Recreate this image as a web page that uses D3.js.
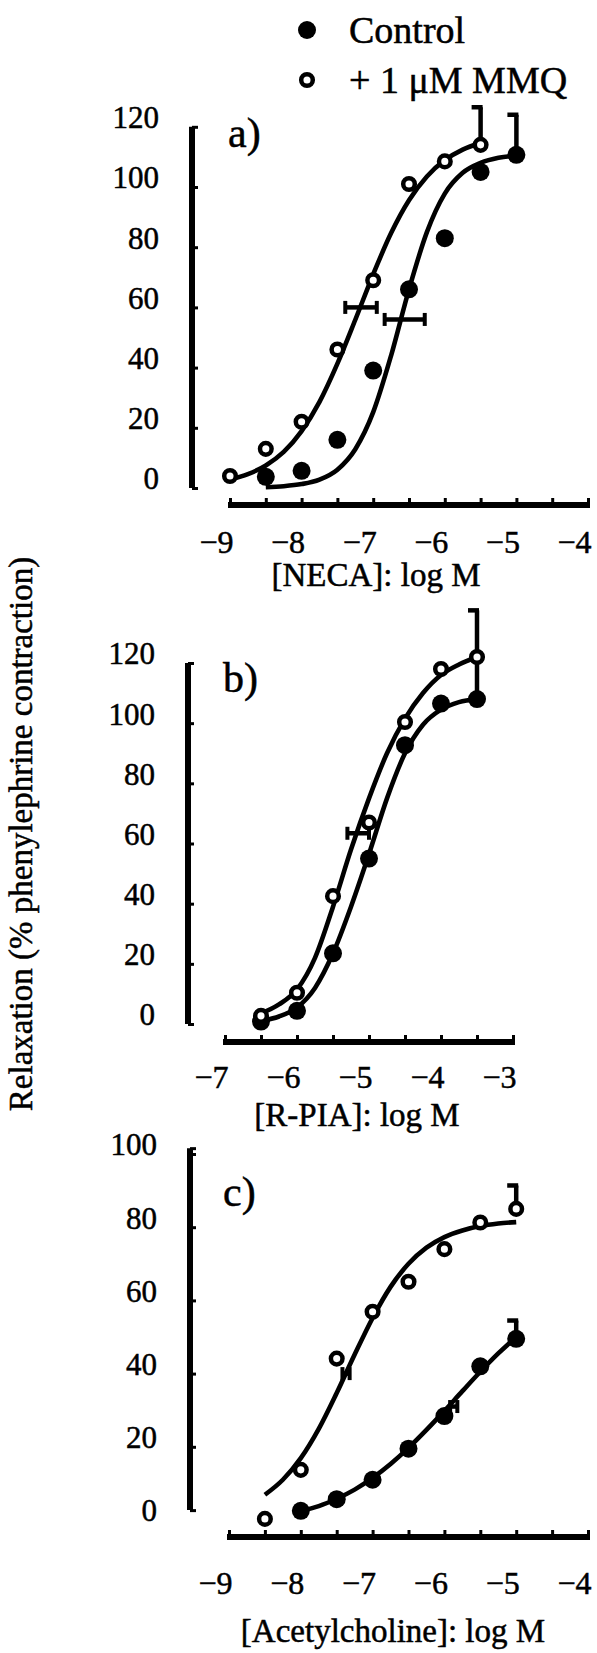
<!DOCTYPE html>
<html>
<head>
<meta charset="utf-8">
<script src="https://cdn.jsdelivr.net/npm/d3@7"></script>
<style>
  body { margin: 0; background: #fff; }
  svg text { font-family: 'Liberation Serif', 'Times New Roman', Times, serif; fill: #000; stroke: #000; stroke-width: 0.5px; }
</style>
</head>
<body>
<svg id="chart" width="597" height="1653"></svg>
<script>
// ---- data ----
// a) NECA
const necaCtrlX = [-8.5, -8, -7.5, -7, -6.5, -6, -5.5, -5];
const necaCtrlY = [3.7, 5.7, 16, 39, 66, 83, 105, 110.7];
const necaMmqX = [-9, -8.5, -8, -7.5, -7, -6.5, -6, -5.5];
const necaMmqY = [4, 13, 22, 46, 69, 101, 108.5, 114];
const necaCtrlFitX = [-8.5, -8.25, -8, -7.75, -7.5, -7.25, -7, -6.75, -6.5, -6.25, -6, -5.75, -5.5, -5.25, -5];
const necaCtrlFitY = [0.3, 0.6, 1.3, 2.8, 6.1, 12.9, 25.2, 44, 66, 85, 97.8, 104.7, 108, 109.7, 110.4];
const necaMmqFitX = [-9, -8.75, -8.5, -8.25, -8, -7.75, -7.5, -7.25, -7, -6.75, -6.5, -6.25, -6, -5.75, -5.5];
const necaMmqFitY = [2.8, 4.6, 7.5, 12, 18.9, 28.6, 41.3, 55.9, 71, 84.7, 95.6, 103.5, 108.9, 112.4, 114.6];
// vertical error bars: [logX, low, high]
const necaErrV = [[-5.5, 114, 126.5], [-5, 110.7, 124]];
// EC50 error bars: [value, logLow, logHigh]
const necaErrH = [[60, -7.39, -6.95], [56, -6.84, -6.28]];

// b) R-PIA
const rpiaCtrlX = [-6.5, -6, -5.5, -5, -4.5, -4, -3.5];
const rpiaCtrlY = [0.8, 4.4, 23.5, 55, 92.7, 106.5, 108];
const rpiaMmqX = [-6.5, -6, -5.5, -5, -4.5, -4, -3.5];
const rpiaMmqY = [2.7, 10.4, 42.5, 67, 100.4, 118, 122];
const rpiaFitX = [-6.5, -6.25, -6, -5.75, -5.5, -5.25, -5, -4.75, -4.5, -4.25, -4, -3.75, -3.5];
const rpiaCtrlFitY = [1, 2.5, 5.5, 12, 23.5, 39, 56.5, 75, 90, 99.5, 104.5, 107, 108];
const rpiaMmqFitY = [3.5, 6.5, 11.5, 22, 39, 58, 75, 90, 101.5, 110, 116, 119.5, 122];
const rpiaErrV = [[-3.5, 107, 137.5]];
const rpiaErrH = [[63.4, -5.3, -5.0]];

// c) Acetylcholine
const achCtrlX = [-8, -7.5, -7, -6.5, -6, -5.5, -5];
const achCtrlY = [2.5, 5.7, 11, 19.5, 28.4, 42, 49.5];
const achMmqX = [-8.5, -8, -7.5, -7, -6.5, -6, -5.5, -5];
const achMmqY = [0.3, 13.7, 44.1, 56.9, 65.1, 74, 81.3, 85];
const achCtrlFitX = [-8, -7.75, -7.5, -7.25, -7, -6.75, -6.5, -6.25, -6, -5.75, -5.5, -5.25, -5];
const achCtrlFitY = [2.5, 3.8, 5.8, 8.3, 11.5, 15.3, 19.7, 24.6, 29.8, 35.2, 40.5, 45.5, 50];
const achMmqFitX = [-8.5, -8.25, -8, -7.75, -7.5, -7.25, -7, -6.75, -6.5, -6.25, -6, -5.75, -5.5, -5.25, -5];
const achMmqFitY = [6.9, 11, 16.9, 24.9, 34.7, 45.2, 55.2, 63.7, 70, 74.4, 77.3, 79.1, 80.3, 81, 81.4];
const achErrV = [[-5, 85, 91.4], [-5, 49.5, 54.5]];
const achErrH = [[40, -7.42, -7.32], [31, -5.92, -5.82]];

// axis ticks
const yTicks120 = [0, 20, 40, 60, 80, 100, 120];
const yTicks100 = [0, 20, 40, 60, 80, 100];
const xTicksNine = [-9, -8, -7, -6, -5, -4];
const xTicksSeven = [-7, -6, -5, -4, -3];

const legendLabels = ["Control", "+ 1 \u03bcM MMQ"];
const yTitle = "Relaxation (% phenylephrine contraction)";

// ---- layout ----
const FONT = "'Liberation Serif', 'Times New Roman', Times, serif";
const DOT_R = 9, RING_R = 5.8, RING_W = 4.5;

const panels = [
  {
    tag: "a)", title: "[NECA]: log M",
    xDomain: [-9, -4], xRange: [230, 588],
    yDomain: [0, 120], yRange: [488, 126.8], yExtent: [0, 120],
    yTicks: yTicks120, xTicks: xTicksNine,
    axisX: 192, axisY: 505, labelRight: 159, xLabelBase: 48, titleX: 376, titleY: 586,
    tagX: 228, tagY: 147,
    ctrl: [necaCtrlX, necaCtrlY], mmq: [necaMmqX, necaMmqY],
    ctrlFit: [necaCtrlFitX, necaCtrlFitY], mmqFit: [necaMmqFitX, necaMmqFitY],
    errV: necaErrV, errH: necaErrH
  },
  {
    tag: "b)", title: "[R-PIA]: log M",
    xDomain: [-7, -3], xRange: [225, 513],
    yDomain: [0, 120], yRange: [1024, 663], yExtent: [0, 120],
    yTicks: yTicks120, xTicks: xTicksSeven,
    axisX: 188, axisY: 1042, labelRight: 155, xLabelBase: 46, titleX: 357, titleY: 1126,
    tagX: 223, tagY: 692,
    ctrl: [rpiaCtrlX, rpiaCtrlY], mmq: [rpiaMmqX, rpiaMmqY],
    ctrlFit: [rpiaFitX, rpiaCtrlFitY], mmqFit: [rpiaFitX, rpiaMmqFitY],
    errV: rpiaErrV, errH: rpiaErrH
  },
  {
    tag: "c)", title: "[Acetylcholine]: log M",
    xDomain: [-9, -4], xRange: [229, 588],
    yDomain: [0, 100], yRange: [1520, 1154], yExtent: [2.7, 101.6],
    yTicks: yTicks100, xTicks: xTicksNine,
    axisX: 190, axisY: 1537, labelRight: 157, xLabelBase: 57, titleX: 393, titleY: 1642,
    tagX: 223, tagY: 1206,
    ctrl: [achCtrlX, achCtrlY], mmq: [achMmqX, achMmqY],
    ctrlFit: [achCtrlFitX, achCtrlFitY], mmqFit: [achMmqFitX, achMmqFitY],
    errV: achErrV, errH: achErrH
  }
];

const svg = d3.select("#chart").attr("font-family", FONT);
svg.append("rect").attr("width", 597).attr("height", 1653).attr("fill", "#fff");

const zip = (xs, ys) => xs.map((v, i) => [v, ys[i]]);

panels.forEach(function(p) {
  const x = d3.scaleLinear().domain(p.xDomain).range(p.xRange);
  const y = d3.scaleLinear().domain(p.yDomain).range(p.yRange);
  const g = svg.append("g");

  // y axis: thick spine, small ticks to the right
  g.append("line")
    .attr("x1", p.axisX).attr("x2", p.axisX)
    .attr("y1", y(p.yExtent[0])).attr("y2", y(p.yExtent[1]))
    .attr("stroke", "#000").attr("stroke-width", 6);
  const yMarks = p.yTicks.filter(d => d > p.yExtent[0] && d < p.yExtent[1]).concat(p.yExtent);
  g.append("g")
    .attr("transform", `translate(${p.axisX},0)`)
    .call(d3.axisRight(y).tickValues(yMarks).tickSize(6).tickFormat(""))
    .call(s => s.select(".domain").remove())
    .selectAll("line").attr("stroke-width", 3);

  // y labels sit a little above their ticks
  g.append("g")
    .attr("transform", `translate(${p.labelRight},0)`)
    .call(d3.axisLeft(y).tickValues(p.yTicks).tickSize(0).tickPadding(0).tickFormat(d3.format("d")))
    .call(s => s.select(".domain").remove())
    .attr("font-family", FONT).attr("font-size", 31)
    .selectAll("text")
    .attr("y", -9);

  // x axis: thick line with upward ticks every half log unit
  const halfSteps = d3.range(p.xDomain[0], p.xDomain[1] + 0.01, 0.5);
  g.append("line")
    .attr("x1", x(p.xDomain[0]) - 2).attr("x2", x(p.xDomain[1]) + 2)
    .attr("y1", p.axisY).attr("y2", p.axisY)
    .attr("stroke", "#000").attr("stroke-width", 6);
  g.append("g")
    .attr("transform", `translate(0,${p.axisY})`)
    .call(d3.axisTop(x).tickValues(halfSteps).tickSize(7).tickFormat(""))
    .call(s => s.select(".domain").remove())
    .selectAll("line").attr("stroke-width", 3);

  g.append("g")
    .attr("transform", `translate(0,${p.axisY})`)
    .call(d3.axisBottom(x).tickValues(p.xTicks).tickSize(0).tickFormat(d3.format("d")))
    .call(s => s.select(".domain").remove())
    .attr("font-family", FONT).attr("font-size", 32)
    .selectAll("text")
    .attr("y", p.xLabelBase).attr("dy", 0).attr("x", 3)
    .attr("text-anchor", "end");

  g.append("text")
    .attr("x", p.titleX).attr("y", p.titleY)
    .attr("text-anchor", "middle")
    .attr("font-size", 33)
    .text(p.title);

  g.append("text")
    .attr("x", p.tagX).attr("y", p.tagY)
    .attr("font-size", 42)
    .text(p.tag);

  // fitted curves
  const line = d3.line()
    .curve(d3.curveMonotoneX)
    .x(d => x(d[0]))
    .y(d => y(d[1]));
  [p.ctrlFit, p.mmqFit].forEach(function(f) {
    g.append("path")
      .attr("d", line(zip(f[0], f[1])))
      .attr("fill", "none")
      .attr("stroke", "#000")
      .attr("stroke-width", 4.6);
  });

  // vertical SEM bars with a cap on the left
  p.errV.forEach(function(e) {
    g.append("line")
      .attr("x1", x(e[0])).attr("x2", x(e[0]))
      .attr("y1", y(e[1])).attr("y2", y(e[2]))
      .attr("stroke", "#000").attr("stroke-width", 4.5);
    g.append("line")
      .attr("x1", x(e[0]) - 9).attr("x2", x(e[0]) + 2)
      .attr("y1", y(e[2])).attr("y2", y(e[2]))
      .attr("stroke", "#000").attr("stroke-width", 4.5);
  });

  // EC50 error bars
  p.errH.forEach(function(e) {
    g.append("line")
      .attr("x1", x(e[1])).attr("x2", x(e[2]))
      .attr("y1", y(e[0])).attr("y2", y(e[0]))
      .attr("stroke", "#000").attr("stroke-width", 4.5);
    [e[1], e[2]].forEach(function(v) {
      g.append("line")
        .attr("x1", x(v)).attr("x2", x(v))
        .attr("y1", y(e[0]) - 6.5).attr("y2", y(e[0]) + 6.5)
        .attr("stroke", "#000").attr("stroke-width", 4);
    });
  });

  // markers
  g.selectAll(".ctrl")
    .data(zip(p.ctrl[0], p.ctrl[1]))
    .join("circle")
    .attr("cx", d => x(d[0])).attr("cy", d => y(d[1]))
    .attr("r", DOT_R).attr("fill", "#000");
  g.selectAll(".mmq")
    .data(zip(p.mmq[0], p.mmq[1]))
    .join("circle")
    .attr("cx", d => x(d[0])).attr("cy", d => y(d[1]))
    .attr("r", RING_R).attr("fill", "#fff")
    .attr("stroke", "#000").attr("stroke-width", RING_W);
});

// legend
const lg = svg.append("g");
lg.append("circle").attr("cx", 307).attr("cy", 30).attr("r", DOT_R).attr("fill", "#000");
lg.append("circle").attr("cx", 307).attr("cy", 80).attr("r", RING_R)
  .attr("fill", "#fff").attr("stroke", "#000").attr("stroke-width", RING_W);
lg.selectAll("text.leg")
  .data(legendLabels)
  .join("text")
  .attr("x", 349)
  .attr("y", (d, i) => 43 + i * 50)
  .attr("font-size", 38)
  .text(d => d);

// shared y title
svg.append("text")
  .attr("transform", "translate(32,834) rotate(-90)")
  .attr("text-anchor", "middle")
  .attr("font-size", 33)
  .text(yTitle);
</script>
</body>
</html>
